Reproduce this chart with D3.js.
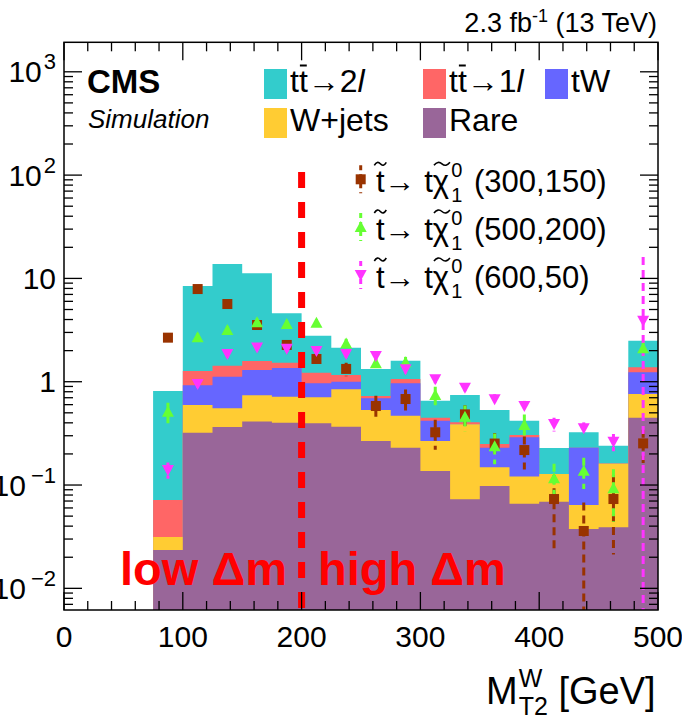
<!DOCTYPE html>
<html><head><meta charset="utf-8">
<script src="https://cdn.jsdelivr.net/npm/d3@7"></script>
<style>
html,body{margin:0;padding:0;background:#fff;}
svg{display:block;font-family:"Liberation Sans",Arial,Helvetica,sans-serif;}
</style>
</head><body>
<svg id="c" width="682" height="720"></svg>
<script>
// ---------- data ----------
const binLow = [75,100,125,150,175,200,225,250,275,300,325,350,375,400,425,450,475];
const binWidth = 25;
const rare  = [0.0235,0.321,0.364,0.412,0.401,0.396,0.367,0.267,0.230,0.137,0.073,0.098,0.066,0.069,0.0375,0.039,0.448];
const wjets = [0.0079,0.274,0.189,0.327,0.315,0.311,0.477,0.266,0.239,0.130,0.314,0.051,0.055,0.059,0.0265,0.123,0.312];
const tW    = [0,0.328,0.565,0.560,0.641,0.259,0.156,0.159,0.496,0.153,0,0.081,0.169,0,0.166,0,0.473];
const tt1l  = [0.0402,0.346,0.310,0.288,0.170,0.257,0.161,0.036,0.097,0.029,0.018,0.020,0.015,0,0,0,0.146];
const tt2l  = [0.742,7.17,12.36,9.61,3.066,1.566,0.973,0.600,0.535,0.207,0.339,0.283,0.115,0.100,0.094,0.078,1.115];

const sig300    = [2.67,7.89,5.65,3.54,2.27,1.66,1.33,0.582,0.680,0.324,0.483,0.252,0.218,0.0732,0.0359,0.0732,0.253];
const sig300Err = [0.2,0.4,0.35,0.28,0.22,0.24,0.2,0.15,0.16,0.105,0.11,0.066,0.077,0.051,0.032,0.052,0.09];
const sig500    = [0.512,2.69,3.17,3.76,3.62,3.73,2.35,1.51,1.54,0.743,0.458,0.237,0.381,0.116,0.1375,0.0929,2.11];
const sig500Err = [0.115,0.25,0.3,0.3,0.3,0.3,0.25,0.18,0.2,0.15,0.13,0.078,0.10,0.045,0.046,0.049,0.35];
const sig600    = [0.140,0.950,1.85,2.15,2.09,1.98,1.85,1.77,1.32,1.055,0.875,0.677,0.582,0.389,0.354,0.262,3.90];
const sig600Err = [0.025,0.1,0.15,0.15,0.15,0.15,0.14,0.14,0.12,0.1,0.09,0.08,0.07,0.06,0.05,0.05,12.2];

const bkgKeys   = ['rare','wjets','tW','tt1l','tt2l'];
const bkgColors = {rare:'#996699', wjets:'#ffcc33', tW:'#6666ff', tt1l:'#ff6666', tt2l:'#33cccc'};
const yTickLabels = [[1000,'10','3'],[100,'10','2'],[10,'10',''],[1,'1',''],[0.1,'10','\u22121'],[0.01,'10','\u22122']];
const xTickLabels = [0,100,200,300,400,500];

// ---------- geometry ----------
const L=64, R=658, T=42.3, B=610;
const svg = d3.select('#c');
const x = d3.scaleLinear().domain([0,500]).range([L,R]);
const y = d3.scaleLog().domain([0.00617,1930]).range([B,T]);
const ymin = y.domain()[0];

// ---------- stacked histogram ----------
const rows = binLow.map((lo,i)=>({lo, rare:rare[i], wjets:wjets[i], tW:tW[i], tt1l:tt1l[i], tt2l:tt2l[i]}));
const stacked = d3.stack().keys(bkgKeys)(rows);
const area = d3.area().x(d=>d.x).y0(B).y1(d=>d.y1);
stacked.slice().reverse().forEach(s=>{
  const pts=[];
  s.forEach((d,i)=>{
    const lo=binLow[i], hi=lo+binWidth;
    const y1 = d[1]>ymin ? y(d[1]) : B;
    pts.push({x:x(lo),y1},{x:x(hi),y1});
  });
  svg.append('path').attr('d',area(pts)).attr('fill',bkgColors[s.key]);
});

// ---------- dashed separator ----------
svg.append('line').attr('x1',x(200)).attr('x2',x(200)).attr('y1',y(100)-3).attr('y2',B)
  .attr('stroke','#ff0000').attr('stroke-width',7).attr('stroke-dasharray','16,14');

// ---------- signals ----------
const signals = [
  {vals:sig300, errs:sig300Err, color:'#993300', shape:'square'},
  {vals:sig500, errs:sig500Err, color:'#66ff33', shape:'up'},
  {vals:sig600, errs:sig600Err, color:'#ff33ff', shape:'down'}
];
function marker(g, cx, cy, shape, color){
  if(shape==='square'){
    g.append('rect').attr('x',cx-5).attr('y',cy-5).attr('width',10).attr('height',10).attr('fill',color);
  } else if(shape==='up'){
    g.append('path').attr('d',`M${cx-6},${cy+5}L${cx+6},${cy+5}L${cx},${cy-6}Z`).attr('fill',color);
  } else {
    g.append('path').attr('d',`M${cx-6},${cy-5}L${cx+6},${cy-5}L${cx},${cy+6}Z`).attr('fill',color);
  }
}
const gs = svg.append('g');
signals.forEach(s=>{
  s.vals.forEach((v,i)=>{
    const cx = x(binLow[i]+binWidth/2);
    const hi = v+s.errs[i], lo = v-s.errs[i];
    gs.append('line').attr('x1',cx).attr('x2',cx)
      .attr('y1',y(Math.min(hi,y.domain()[1]))).attr('y2', lo>ymin ? y(lo) : B)
      .attr('stroke',s.color).attr('stroke-width',3).attr('stroke-dasharray','8,5');
  });
});
signals.forEach(s=>{
  s.vals.forEach((v,i)=>{
    marker(gs, x(binLow[i]+binWidth/2), y(v), s.shape, s.color);
  });
});

// ---------- region texts ----------
svg.append('text').attr('x',120).attr('y',585).attr('font-size',47).attr('font-weight','bold')
  .attr('fill','#ff0000').text('low \u0394m');
svg.append('text').attr('x',318).attr('y',585).attr('font-size',47).attr('font-weight','bold')
  .attr('fill','#ff0000').text('high \u0394m');

// ---------- axes / frame ----------
const ga = svg.append('g').attr('stroke','#000').attr('stroke-width',1.3);
x.ticks(25).forEach(t=>{
  const len = (t%100===0)?18:9;
  ga.append('line').attr('x1',x(t)).attr('x2',x(t)).attr('y1',B).attr('y2',B-len);
  ga.append('line').attr('x1',x(t)).attr('x2',x(t)).attr('y1',T).attr('y2',T+len);
});
y.ticks().forEach(t=>{
  const lg = Math.log10(t);
  const major = Math.abs(lg-Math.round(lg))<1e-6;
  const len = major?18:9;
  ga.append('line').attr('x1',L).attr('x2',L+len).attr('y1',y(t)).attr('y2',y(t));
  ga.append('line').attr('x1',R).attr('x2',R-len).attr('y1',y(t)).attr('y2',y(t));
});
svg.append('rect').attr('x',L).attr('y',T).attr('width',R-L).attr('height',B-T)
  .attr('fill','none').attr('stroke','#000').attr('stroke-width',1.5);

xTickLabels.forEach(t=>{
  svg.append('text').attr('x',x(t)).attr('y',647).attr('text-anchor','middle')
    .attr('font-size',30).text(t);
});
yTickLabels.forEach(([v,base,exp])=>{
  const t = svg.append('text').attr('x',56).attr('y',y(v)+10.5).attr('text-anchor','end').attr('font-size',30);
  t.append('tspan').text(base);
  if(exp) t.append('tspan').attr('dx', exp.length>1 ? 5 : 2).attr('dy',-13).attr('font-size',22).text(exp);
});

// x-axis title
{
  const t = svg.append('text').attr('x',486).attr('y',704).attr('font-size',38);
  t.append('tspan').text('M');
  t.append('tspan').attr('dx',1).attr('dy',-17).attr('font-size',25).text('W');
  t.append('tspan').attr('dx',-23.6).attr('dy',28).attr('font-size',25).text('T2');
  t.append('tspan').attr('dy',-11).text(' [GeV]');
}

// lumi
{
  const t = svg.append('text').attr('x',657).attr('y',31.7).attr('text-anchor','end').attr('font-size',27);
  t.append('tspan').text('2.3 fb');
  t.append('tspan').attr('dy',-10).attr('font-size',18).text('-1');
  t.append('tspan').attr('dy',10).text(' (13 TeV)');
}

// CMS
svg.append('text').attr('x',87).attr('y',93.3).attr('font-size',33).attr('font-weight','bold').text('CMS');
svg.append('text').attr('x',88).attr('y',128.3).attr('font-size',26).attr('font-style','italic').text('Simulation');

// ---------- legend (backgrounds) ----------
function tilde(cx, cy, w){
  svg.append('path')
    .attr('d',`M${cx-w/2},${cy+1.5}Q${cx-w/4},${cy-3.5} ${cx},${cy}Q${cx+w/4},${cy+3.5} ${cx+w/2},${cy-1.5}`)
    .attr('fill','none').attr('stroke','#000').attr('stroke-width',1.6);
}
const legendEntries = [
  {key:'tt2l', bx:264, row:0, label:'tt\u21922', ital:'l', bar:true},
  {key:'tt1l', bx:423, row:0, label:'tt\u21921', ital:'l', bar:true},
  {key:'tW',   bx:545, row:0, label:'tW'},
  {key:'wjets',bx:264, row:1, label:'W+jets'},
  {key:'rare', bx:423, row:1, label:'Rare'}
];
legendEntries.forEach(e=>{
  const by = e.row===0 ? 69 : 108;
  svg.append('rect').attr('x',e.bx).attr('y',by).attr('width',23).attr('height',30).attr('fill',bkgColors[e.key]);
  const t = svg.append('text').attr('x',e.bx+26).attr('y',by+23).attr('font-size',32);
  t.append('tspan').text(e.label);
  if(e.ital) t.append('tspan').attr('font-style','italic').text(e.ital);
  if(e.bar){
    const ex = t.node().getExtentOfChar(1);
    svg.append('line').attr('x1',ex.x+1).attr('x2',ex.x+ex.width-1)
      .attr('y1',by-3.5).attr('y2',by-3.5).attr('stroke','#000').attr('stroke-width',2);
  }
});

// ---------- legend (signals) ----------
const sigLabels = ['(300,150)','(500,200)','(600,50)'];
const sigRowsY = [179.3, 227, 275];
signals.forEach((s,i)=>{
  const cy = sigRowsY[i];
  svg.append('line').attr('x1',360.7).attr('x2',360.7).attr('y1',cy-14).attr('y2',cy+14)
    .attr('stroke',s.color).attr('stroke-width',3).attr('stroke-dasharray','5,4');
  marker(svg, 360.7, cy, s.shape, s.color);
  const t = svg.append('text').attr('x',376).attr('y',cy+12.5).attr('font-size',31);
  t.append('tspan').text('t\u2192 t\u03c7');
  t.append('tspan').attr('dx',2).attr('dy',-15).attr('font-size',20).text('0');
  t.append('tspan').attr('dx',-11).attr('dy',25).attr('font-size',20).text('1');
  t.append('tspan').attr('dx',3).attr('dy',-10).text(' '+sigLabels[i]);
  const n = t.node();
  const e0 = n.getExtentOfChar(0), e4 = n.getExtentOfChar(4);
  const ty = cy+12.5-28;
  tilde(e0.x+e0.width/2, ty, 12);
  tilde(e4.x+e4.width/2+1, ty, 16);
});
</script>
</body></html>
